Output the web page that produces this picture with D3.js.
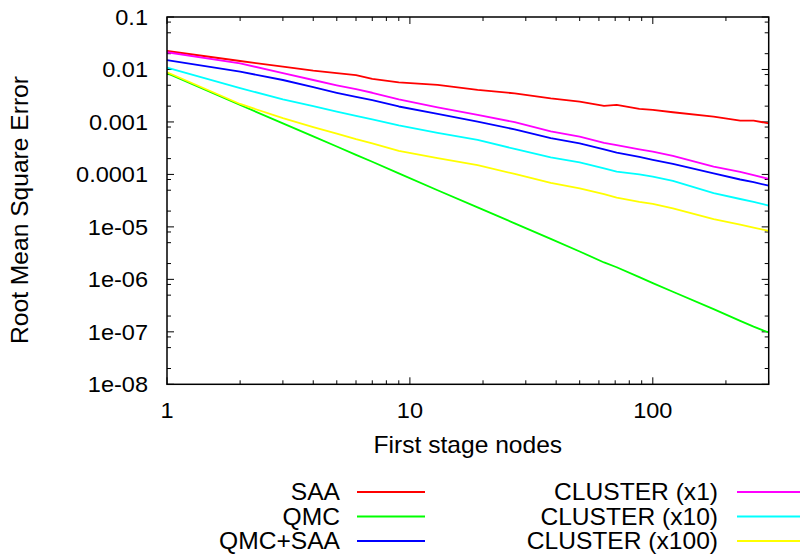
<!DOCTYPE html>
<meta charset="utf-8">
<svg width="802" height="559"></svg>

<style>
body { margin: 0; background: #fff; }
svg { display: block; background: #fff; font-family: "Liberation Sans", Arial, sans-serif; }
.border { fill: none; stroke: #000; stroke-width: 1.5; }
.tick { stroke: #000; stroke-width: 1; }
.series { fill: none; stroke-width: 1.8; stroke-linejoin: round; }
text { fill: #000; }
</style>

<script src="https://d3js.org/d3.v7.min.js"></script>
<script>

// first stage nodes where the curves were read
var nodes = [1, 2, 3, 4, 5, 6, 7, 9, 13, 19, 27, 38, 50, 63, 71, 88, 100, 121, 178, 229, 260, 300];

var saa      = [0.0225, 0.0145, 0.0113, 0.0095, 0.0085, 0.0078, 0.0066, 0.0057, 0.0051, 0.0041, 0.0035, 0.0028,
                0.00244, 0.00202, 0.00212, 0.00177, 0.0017, 0.00153, 0.00126, 0.00106, 0.00106, 0.00094];
var qmc      = [0.0085, 0.0021, 0.00094, 0.00053, 0.00034, 0.000236, 0.000174, 0.000105, 0.00005, 0.0000235, 0.0000117, 0.0000059,
                0.0000034, 0.0000021, 0.0000017, 0.0000011, 0.00000085, 0.00000058, 0.00000027, 0.000000162, 0.000000126, 0.000000097];
var qmcSaa   = [0.015, 0.0091, 0.0063, 0.0046, 0.0036, 0.003, 0.0026, 0.00197, 0.00142, 0.00101, 0.00072, 0.00049,
                0.00039, 0.0003, 0.00026, 0.000215, 0.000189, 0.000158, 0.000105, 0.00008, 0.000071, 0.000061];
var cluster1   = [0.0213, 0.0131, 0.0085, 0.0063, 0.005, 0.0042, 0.0036, 0.0027, 0.0019, 0.00136, 0.00099, 0.00066,
                  0.000525, 0.0004, 0.00036, 0.0003, 0.000272, 0.000225, 0.000141, 0.000112, 0.000097, 0.000082];
var cluster10  = [0.0108, 0.0044, 0.0027, 0.002, 0.00158, 0.0013, 0.00112, 0.00086, 0.00062, 0.000454, 0.000306, 0.000212,
                  0.00017, 0.00013, 0.000113, 0.0001, 0.000091, 0.000075, 0.000044, 0.000034, 0.00003, 0.0000255];
var cluster100 = [0.00885, 0.0022, 0.00118, 0.0008, 0.0006, 0.00047, 0.00039, 0.00028, 0.000205, 0.00015, 0.000102, 0.000069,
                  0.000054, 0.000042, 0.000036, 0.00003, 0.0000274, 0.0000225, 0.000014, 0.000011, 0.0000097, 0.0000084];

var seriesNames  = ["SAA", "QMC", "QMC+SAA", "CLUSTER (x1)", "CLUSTER (x10)", "CLUSTER (x100)"];
var seriesValues = [saa, qmc, qmcSaa, cluster1, cluster10, cluster100];
var seriesColors = ["#ff0000", "#00ff00", "#0000ff", "#ff00ff", "#00ffff", "#ffff00"];

var xTickValues = [1, 10, 100];
var xTickLabels = ["1", "10", "100"];
var yTickValues = [1e-8, 1e-7, 1e-6, 1e-5, 1e-4, 1e-3, 1e-2, 1e-1];
var yTickLabels = ["1e-08", "1e-07", "1e-06", "1e-05", "0.0001", "0.001", "0.01", "0.1"];
var yMinorSteps = [2, 5, 8];

var svg = d3.select("svg"),
    plotL = 167, plotR = 768.7, plotT = 17, plotB = 384.3;

var x = d3.scaleLog().domain([1, 300]).range([plotL, plotR]);
var y = d3.scaleLog().domain([1e-8, 0.1]).range([plotB, plotT]);

// text in the picture is a bit wider than Liberation Sans
function label(px, py, txt, anchor, size, rot) {
  return svg.append("text")
      .attr("transform", "translate(" + px + "," + py + ") rotate(" + (rot || 0) + ") scale(1.07,1)")
      .attr("text-anchor", anchor)
      .style("font-size", size + "px")
      .text(txt);
}

// ticks, gnuplot style (inward, mirrored)
var xMinor = [];
xTickValues.forEach(function(d) {
  for (var k = 2; k <= 9; k++) if (d * k <= 300) xMinor.push(d * k);
});
var yMinor = [];
yTickValues.slice(0, -1).forEach(function(d) {
  yMinorSteps.forEach(function(k) { yMinor.push(d * k); });
});

var ticks = svg.append("g");
function xTick(v, len) {
  ticks.append("line").attr("class", "tick")
      .attr("x1", x(v)).attr("x2", x(v)).attr("y1", plotB).attr("y2", plotB - len);
  ticks.append("line").attr("class", "tick")
      .attr("x1", x(v)).attr("x2", x(v)).attr("y1", plotT).attr("y2", plotT + len);
}
function yTick(v, len) {
  ticks.append("line").attr("class", "tick")
      .attr("x1", plotL).attr("x2", plotL + len).attr("y1", y(v)).attr("y2", y(v));
  ticks.append("line").attr("class", "tick")
      .attr("x1", plotR).attr("x2", plotR - len).attr("y1", y(v)).attr("y2", y(v));
}
xTickValues.forEach(function(v) { xTick(v, 7); });
xMinor.forEach(function(v) { xTick(v, 4); });
yTickValues.forEach(function(v) { yTick(v, 7); });
yMinor.forEach(function(v) { yTick(v, 4); });

// series
var line = d3.line()
    .x(function(d) { return x(d[0]); })
    .y(function(d) { return y(d[1]); });

seriesValues.forEach(function(vals, i) {
  svg.append("path")
      .datum(nodes.map(function(n, j) { return [n, vals[j]]; }))
      .attr("class", "series")
      .attr("stroke", seriesColors[i])
      .attr("d", line);
});

svg.append("rect").attr("class", "border")
    .attr("x", plotL).attr("y", plotT)
    .attr("width", plotR - plotL).attr("height", plotB - plotT);

// tick labels
yTickValues.forEach(function(v, i) {
  label(148, y(v), yTickLabels[i], "end", 22).attr("dy", "0.35em");
});
xTickValues.forEach(function(v, i) {
  label(x(v), 418, xTickLabels[i], "middle", 22);
});

// axis titles
label((plotL + plotR) / 2, 453, "First stage nodes", "middle", 23);
label(28, 210, "Root Mean Square Error", "middle", 23, -90);

// key below the plot, two columns
var keyRows = [492, 516.5, 541];
seriesNames.forEach(function(name, i) {
  var col = Math.floor(i / 3), row = i % 3;
  var textX = col ? 718 : 340,
      x1 = col ? 737 : 357,
      x2 = col ? 800 : 425;
  label(textX, keyRows[row], name, "end", 23).attr("dy", "0.35em");
  svg.append("line")
      .attr("x1", x1).attr("x2", x2)
      .attr("y1", keyRows[row]).attr("y2", keyRows[row])
      .attr("stroke", seriesColors[i])
      .attr("stroke-width", 1.8);
});

</script>
